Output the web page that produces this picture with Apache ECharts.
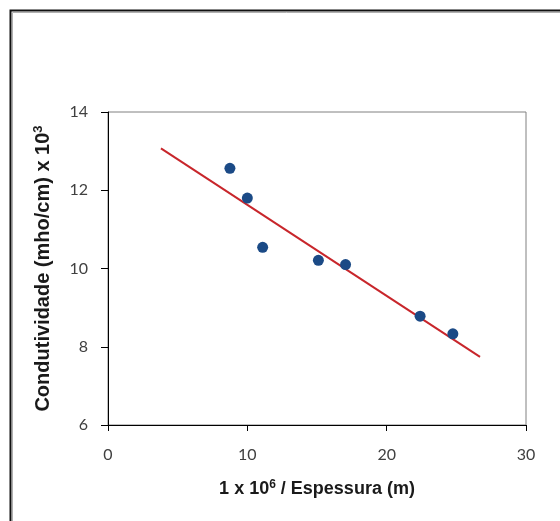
<!DOCTYPE html>
<html>
<head>
<meta charset="utf-8">
<script src="https://cdn.jsdelivr.net/npm/echarts@6/dist/echarts.min.js"></script>
<style>html,body{margin:0;padding:0;background:#fff;}#c{width:560px;height:521px;}</style>
</head>
<body>
<div id="c"></div>
<script>
// data
const xValues = [8.75, 10.0, 11.1, 15.1, 17.05, 22.4, 24.75];
const yValues = [12.56, 11.8, 10.54, 10.21, 10.10, 8.78, 8.33];
const trendX = [3.8, 26.7];
const trendY = [13.07, 7.74];
const xTicks = [0, 10, 20, 30];
const yTicks = [6, 8, 10, 12, 14];

const points = xValues.map((x, i) => [x, yValues[i]]);
const trend = trendX.map((x, i) => [x, trendY[i]]);

const chart = echarts.init(document.getElementById('c'), null, {renderer: 'canvas'});
const tickFont = {fontFamily: 'Lato', fontSize: 16, color: '#404040'};
function titleRich(size) {
  return {
    t: {fontFamily: 'Liberation Sans', fontWeight: 'bold', fontSize: size, color: '#1a1a1a', lineHeight: size + 2},
    s: {fontFamily: 'Liberation Sans', fontWeight: 'bold', fontSize: Math.round(size * 0.66), color: '#1a1a1a', lineHeight: size + 2, verticalAlign: 'top', padding: [0, 0, 7, 0]}
  };
}
chart.setOption({
  animation: false,
  backgroundColor: '#fff',
  grid: {left: 108, right: 34, top: 112, bottom: 96, show: true, borderColor: '#808080', borderWidth: 1},
  xAxis: {
    type: 'value', min: xTicks[0], max: xTicks[xTicks.length - 1], interval: 10,
    axisLine: {show: true, lineStyle: {color: '#000', width: 1}},
    axisTick: {show: true, inside: false, length: 6, lineStyle: {color: '#000'}},
    splitLine: {show: false},
    axisLabel: Object.assign({margin: 22}, tickFont),
    name: '{t|1 x 10}{s|6}{t| / Espessura (m)}',
    nameLocation: 'middle', nameGap: 54,
    nameTextStyle: {rich: titleRich(18)}
  },
  yAxis: {
    type: 'value', min: yTicks[0], max: yTicks[yTicks.length - 1], interval: 2,
    axisLine: {show: true, lineStyle: {color: '#000', width: 1}},
    axisTick: {show: true, inside: false, length: 7, lineStyle: {color: '#000'}},
    splitLine: {show: false},
    axisLabel: Object.assign({margin: 20}, tickFont),
    name: '{t|Condutividade (mho/cm) x 10}{s|3}',
    nameLocation: 'middle', nameGap: 54, nameRotate: 90,
    nameTextStyle: {rich: titleRich(20)}
  },
  graphic: [
    {type: 'rect', shape: {x: 10.5, y: 10.5, width: 700, height: 700}, style: {fill: 'none', stroke: '#111', lineWidth: 2}, z: 100},
    {type: 'rect', shape: {x: 12.5, y: 12.5, width: 700, height: 700}, style: {fill: 'none', stroke: '#b0b0b0', lineWidth: 1}, z: 100}
  ],
  series: [
    {type: 'line', data: trend, showSymbol: false, symbol: 'none', lineStyle: {color: '#C8262B', width: 2}, z: 2},
    {type: 'scatter', data: points, symbol: 'circle', symbolSize: 11, itemStyle: {color: '#1B4A86', opacity: 1}, z: 3}
  ]
});
</script>
</body>
</html>
